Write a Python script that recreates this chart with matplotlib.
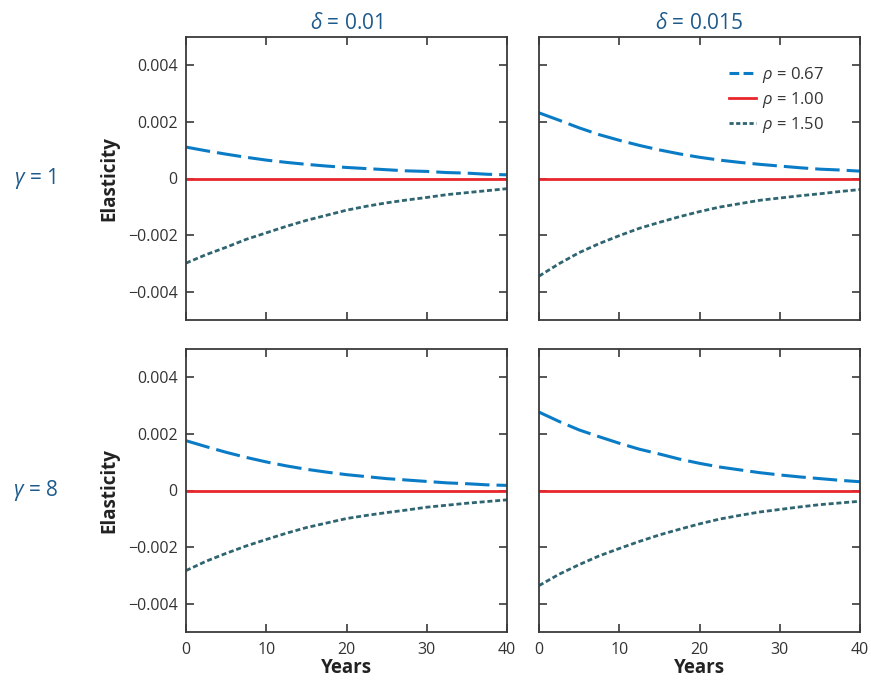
import numpy as np
import matplotlib
matplotlib.use("Agg")
import matplotlib.pyplot as plt
from matplotlib.lines import Line2D

plt.rcParams['font.family'] = ['Open Sans', 'DejaVu Sans']
plt.rcParams['mathtext.fontset'] = 'custom'
plt.rcParams['mathtext.rm'] = 'Open Sans'
plt.rcParams['mathtext.it'] = 'Open Sans:italic'

# data (elasticity, units of 1e-3)
years = [0, 2.5, 5, 7.5, 10, 12.5, 15, 17.5, 20, 22.5, 25, 27.5, 30, 32.5, 35, 37.5, 40]

# gamma = 1, delta = 0.01
g1_d1_r067 = [1.11, 0.98, 0.86, 0.75, 0.65, 0.57, 0.50, 0.44, 0.39,
              0.35, 0.31, 0.27, 0.25, 0.21, 0.19, 0.15, 0.13]
g1_d1_r150 = [-2.99, -2.69, -2.43, -2.15, -1.92, -1.69, -1.48, -1.30, -1.12,
              -0.98, -0.86, -0.76, -0.67, -0.57, -0.50, -0.43, -0.36]
# gamma = 1, delta = 0.015
g1_d2_r067 = [2.32, 2.06, 1.79, 1.55, 1.35, 1.17, 1.01, 0.87, 0.75,
              0.65, 0.57, 0.50, 0.44, 0.38, 0.33, 0.30, 0.26]
g1_d2_r150 = [-3.45, -3.01, -2.62, -2.30, -2.02, -1.76, -1.55, -1.35, -1.17,
              -1.01, -0.89, -0.77, -0.69, -0.61, -0.54, -0.46, -0.39]
# gamma = 8, delta = 0.01
g8_d1_r067 = [1.76, 1.55, 1.35, 1.17, 1.01, 0.87, 0.75, 0.65, 0.56,
              0.49, 0.42, 0.37, 0.32, 0.27, 0.24, 0.20, 0.18]
g8_d1_r150 = [-2.83, -2.50, -2.22, -1.96, -1.73, -1.51, -1.31, -1.15, -0.99,
              -0.88, -0.78, -0.69, -0.59, -0.52, -0.45, -0.39, -0.33]
# gamma = 8, delta = 0.015
g8_d2_r067 = [2.77, 2.44, 2.14, 1.90, 1.67, 1.46, 1.29, 1.11, 0.96,
              0.83, 0.73, 0.63, 0.55, 0.48, 0.42, 0.36, 0.31]
g8_d2_r150 = [-3.36, -2.96, -2.62, -2.31, -2.05, -1.80, -1.57, -1.37, -1.18,
              -1.01, -0.88, -0.76, -0.67, -0.58, -0.50, -0.44, -0.38]

rho_1 = [0] * len(years)

col_titles = [r"$\mathit{\delta}$ = 0.01", r"$\mathit{\delta}$ = 0.015"]
row_titles = [r"$\mathit{\gamma}$ = 1", r"$\mathit{\gamma}$ = 8"]
legend_labels = [r"$\mathit{\rho}$ = 0.67", r"$\mathit{\rho}$ = 1.00", r"$\mathit{\rho}$ = 1.50"]
yticks = [-0.004, -0.002, 0, 0.002, 0.004]
ytick_labels = ["\u22120.004", "\u22120.002", "0", "0.002", "0.004"]
xticks = [0, 10, 20, 30, 40]

panels = [[(g1_d1_r067, g1_d1_r150), (g1_d2_r067, g1_d2_r150)],
          [(g8_d1_r067, g8_d1_r150), (g8_d2_r067, g8_d2_r150)]]

blue = "#0a7cc6"
red = "#e8262c"
teal = "#2e6570"
head = "#1d5a8c"
frame = "#3a3a3a"

fig = plt.figure(figsize=(8.71, 6.8), dpi=100)
lefts = [186 / 871, 539 / 871]
bottoms = [1 - 320 / 680, 1 - 632 / 680]
w = 321 / 871
h = 283 / 680

for r in range(2):
    for c in range(2):
        ax = fig.add_axes([lefts[c], bottoms[r], w, h])
        hi, lo = panels[r][c]
        x = np.array(years)
        ax.plot(x, np.array(hi) * 1e-3, color=blue, lw=2.2, dashes=(8, 2.3))
        ax.plot(x, np.array(rho_1) * 1e-3, color=red, lw=2.0)
        ax.plot(x, np.array(lo) * 1e-3, color=teal, lw=2.0, dashes=(1.8, 1.0))
        ax.set_xlim(0, 40)
        ax.set_ylim(-0.005, 0.005)
        ax.set_xticks(xticks)
        ax.set_yticks(yticks)
        ax.tick_params(direction="in", length=6, width=1.2, color=frame,
                       top=True, right=True, labelsize=11.5, labelcolor="#333333")
        ax.tick_params(axis="x", pad=7)
        ax.tick_params(axis="y", pad=6)
        for s in ax.spines.values():
            s.set_linewidth(1.3)
            s.set_color(frame)
        if c == 0:
            ax.set_yticklabels(ytick_labels)
            ax.set_ylabel("Elasticity", fontsize=13.5, fontweight="bold",
                          color="#222222", labelpad=6)
        else:
            ax.set_yticklabels([])
        if r == 1:
            ax.set_xlabel("Years", fontsize=13.5, fontweight="bold",
                          color="#222222", labelpad=0)
        else:
            ax.set_xticklabels([])
            ax.set_title(col_titles[c], fontsize=15, color=head, pad=6)
        if c == 0:
            ax.text(-0.47, 0.5, row_titles[r], transform=ax.transAxes,
                    fontsize=15, color=head, ha="center", va="center")
        if r == 0 and c == 1:
            # legend keys with shorter dash patterns so the key shows the style
            keys = [Line2D([], [], color=blue, lw=2.2, dashes=(3.2, 1.4)),
                    Line2D([], [], color=red, lw=2.0),
                    Line2D([], [], color=teal, lw=2.0, dashes=(1.5, 0.9))]
            ax.legend(keys, legend_labels, loc="upper right", frameon=False,
                      fontsize=12, handlelength=1.6, handletextpad=0.4,
                      labelspacing=0.3, borderaxespad=0.0,
                      bbox_to_anchor=(0.91, 0.925), labelcolor="#333333")

fig.savefig("out.png", dpi=100)
